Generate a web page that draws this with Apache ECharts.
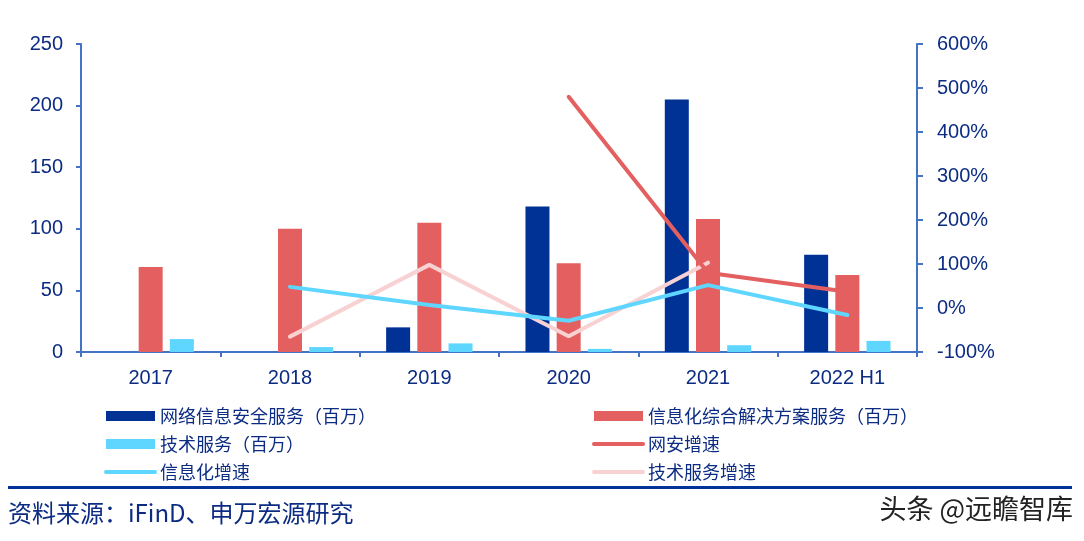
<!DOCTYPE html>
<html>
<head>
<meta charset="utf-8">
<script src="https://cdn.jsdelivr.net/npm/echarts@6/dist/echarts.min.js"></script>
<style>
html,body{margin:0;padding:0;background:#fff;}
#c{width:1084px;height:541px;}
</style>
</head>
<body>
<div id="c"></div>
<script>
var categories = ['2017', '2018', '2019', '2020', '2021', '2022 H1'];
var netSecurity = [null, null, 20, 118, 205, 79];
var infoSolution = [69, 100, 105, 72, 108, 62.5];
var techService = [10.5, 4, 7, 2.5, 5.5, 9];
var netSecurityGrowth = [null, null, null, 480, 80, 37];
var infoGrowth = [null, 48, 7, -29, 52, -16];
var techGrowth = [null, -65, 98, -64, 103, null];
var leftTicks = {min: 0, max: 250, interval: 50};
var rightTicks = {min: -100, max: 600, interval: 100};

var TXT = '#0c2c84';
var FONT = '"Liberation Sans", "Noto Sans CJK SC", sans-serif';
var CJK = '"Noto Sans CJK SC", "Liberation Sans", sans-serif';
var AXIS = '#4472C4';
var C_BLUE = '#003296', C_RED = '#E45F5F', C_CYAN = '#5FD6FF', C_PINK = '#F8D2D2';

var chart = echarts.init(document.getElementById('c'), null, {renderer: 'canvas'});
var legendText = {color: TXT, fontSize: 18, fontFamily: CJK, lineHeight: 20};
chart.setOption({
  animation: false,
  grid: {left: 81, right: 167, top: 44, bottom: 189, containLabel: false},
  legend: [{
    orient: 'vertical', left: 104, top: 406, padding: 0, itemWidth: 49, itemHeight: 10, itemGap: 8,
    textStyle: legendText, selectedMode: false,
    lineStyle: {width: 4, cap: 'round'},
    data: [
      {name: '网络信息安全服务（百万）', icon: 'rect'},
      {name: '技术服务（百万）', icon: 'rect'},
      {name: '信息化增速', itemStyle: {opacity: 0}}
    ]
  }, {
    orient: 'vertical', left: 592, top: 406, padding: 0, itemWidth: 49, itemHeight: 10, itemGap: 8,
    textStyle: legendText, selectedMode: false,
    lineStyle: {width: 4, cap: 'round'},
    data: [
      {name: '信息化综合解决方案服务（百万）', icon: 'rect'},
      {name: '网安增速', itemStyle: {opacity: 0}},
      {name: '技术服务增速', itemStyle: {opacity: 0}}
    ]
  }],
  xAxis: {
    type: 'category', data: categories, boundaryGap: true,
    axisLine: {lineStyle: {color: AXIS, width: 2}},
    axisTick: {show: true, length: 5, lineStyle: {color: AXIS, width: 2}},
    axisLabel: {color: TXT, fontSize: 20, fontFamily: FONT, margin: 16}
  },
  yAxis: [{
    type: 'value', min: leftTicks.min, max: leftTicks.max, interval: leftTicks.interval,
    axisLine: {show: true, lineStyle: {color: AXIS, width: 2}},
    axisTick: {show: true, length: 5, lineStyle: {color: AXIS, width: 2}},
    splitLine: {show: false},
    axisLabel: {color: TXT, fontSize: 20, fontFamily: FONT, margin: 18}
  }, {
    type: 'value', min: rightTicks.min, max: rightTicks.max, interval: rightTicks.interval,
    position: 'right',
    axisLine: {show: true, lineStyle: {color: AXIS, width: 2}},
    axisTick: {show: true, length: 6, lineStyle: {color: AXIS, width: 2}},
    splitLine: {show: false},
    axisLabel: {color: TXT, fontSize: 20, fontFamily: FONT, margin: 20, formatter: '{value}%'}
  }],
  series: [{
    name: '网络信息安全服务（百万）', type: 'bar', data: netSecurity, barWidth: 24, barGap: '30%',
    itemStyle: {color: C_BLUE}
  }, {
    name: '信息化综合解决方案服务（百万）', type: 'bar', data: infoSolution, barWidth: 24, barGap: '30%',
    itemStyle: {color: C_RED}
  }, {
    name: '技术服务（百万）', type: 'bar', data: techService, barWidth: 24, barGap: '30%',
    itemStyle: {color: C_CYAN}
  }, {
    name: '网安增速', type: 'line', yAxisIndex: 1, data: netSecurityGrowth, symbol: 'none',
    lineStyle: {color: C_RED, width: 4, cap: 'round'}, itemStyle: {color: C_RED}, z: 5
  }, {
    name: '信息化增速', type: 'line', yAxisIndex: 1, data: infoGrowth, symbol: 'none',
    lineStyle: {color: C_CYAN, width: 4, cap: 'round'}, itemStyle: {color: C_CYAN}, z: 5
  }, {
    name: '技术服务增速', type: 'line', yAxisIndex: 1, data: techGrowth, symbol: 'none',
    lineStyle: {color: C_PINK, width: 4, cap: 'round'}, itemStyle: {color: C_PINK}, z: 4
  }],
  graphic: [{
    type: 'rect', shape: {x: 8, y: 486, width: 1064, height: 3}, style: {fill: '#003399'}, silent: true
  }, {
    type: 'text', left: 8, top: 501,
    style: {text: '资料来源：iFinD、申万宏源研究', fill: TXT, font: '24px ' + CJK}
  }, {
    type: 'text', right: 11, top: 495,
    style: {text: '头条 @远瞻智库', fill: '#222222', font: '27px ' + CJK}
  }]
});
</script>
</body>
</html>
